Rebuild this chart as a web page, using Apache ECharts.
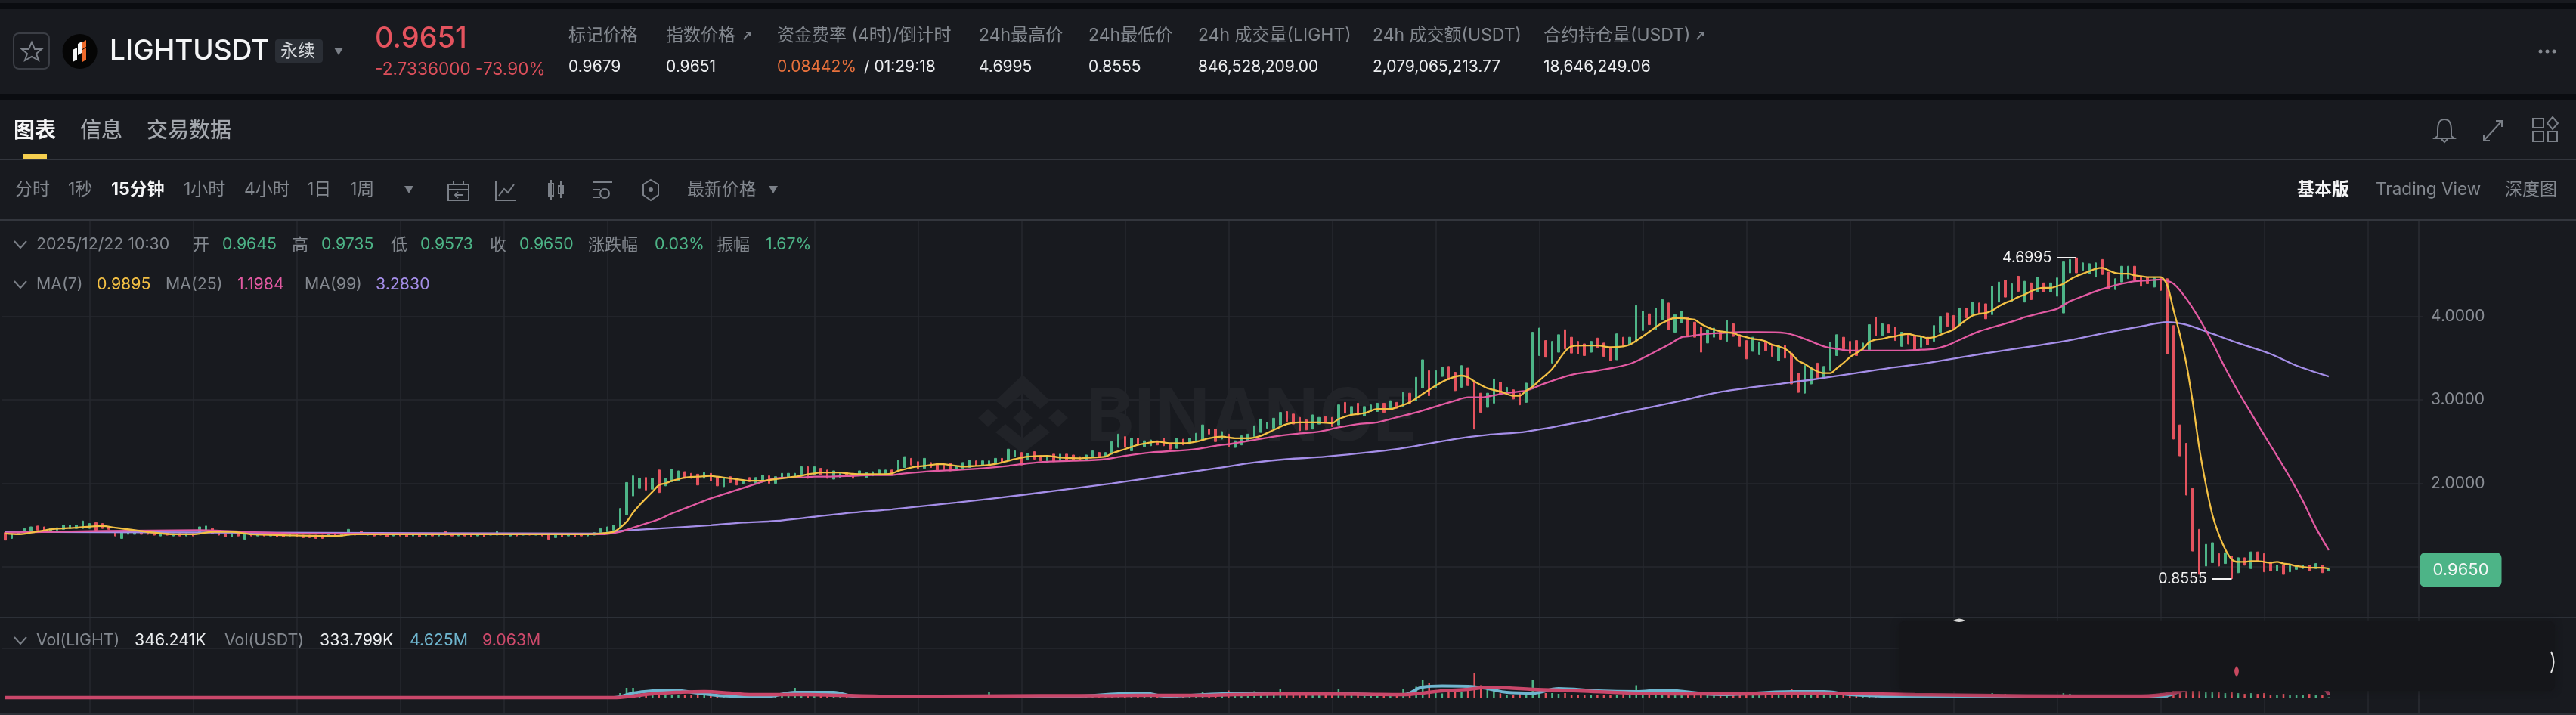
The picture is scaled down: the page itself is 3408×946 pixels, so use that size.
<!DOCTYPE html>
<html>
<head>
<meta charset="utf-8">
<title>LIGHTUSDT</title>
<script src="https://cdn.jsdelivr.net/npm/echarts@6/dist/echarts.min.js"></script>
<style>
html, body { margin: 0; padding: 0; background: #181a1f; }
#main { width: 3408px; height: 946px; }
</style>
</head>
<body>
<div id="main"></div>
<script>
// 15m candles, last one is 2025/12/22 10:30
const opens = [
    1.41,1.34,1.39,1.41,1.43,1.49,1.48,1.42,1.44,1.45,
    1.46,1.46,1.46,1.46,1.53,1.52,1.48,1.43,1.34,1.39,
    1.39,1.42,1.41,1.41,1.37,1.41,1.37,1.40,1.37,1.40,
    1.42,1.43,1.46,1.42,1.40,1.36,1.40,1.33,1.40,1.37,
    1.39,1.37,1.39,1.39,1.37,1.39,1.38,1.38,1.38,1.38,
    1.36,1.39,1.37,1.38,1.41,1.43,1.38,1.40,1.40,1.39,
    1.37,1.39,1.39,1.37,1.39,1.37,1.39,1.37,1.43,1.40,
    1.37,1.39,1.39,1.37,1.39,1.38,1.38,1.40,1.37,1.39,
    1.38,1.39,1.38,1.39,1.39,1.35,1.38,1.37,1.38,1.38,
    1.37,1.38,1.41,1.42,1.44,1.46,1.62,1.85,1.94,2.07,
    1.93,2.16,1.97,2.02,2.03,2.14,2.12,2.11,2.06,2.12,
    2.08,1.96,2.08,2.05,2.00,2.07,2.00,2.03,2.09,2.00,
    2.06,2.07,2.07,2.09,2.20,2.10,2.18,2.16,2.05,2.07,
    2.13,2.12,2.09,2.07,2.09,2.10,2.11,2.16,2.15,2.19,
    2.30,2.26,2.18,2.25,2.24,2.22,2.24,2.17,2.18,2.19,
    2.27,2.21,2.22,2.25,2.30,2.28,2.32,2.37,2.28,2.38,
    2.33,2.27,2.35,2.27,2.35,2.34,2.32,2.28,2.31,2.37,
    2.32,2.35,2.43,2.56,2.39,2.54,2.44,2.45,2.51,2.54,
    2.48,2.42,2.53,2.47,2.50,2.52,2.65,2.65,2.53,2.59,
    2.43,2.46,2.51,2.56,2.61,2.66,2.66,2.70,2.86,2.83,
    2.79,2.76,2.65,2.71,2.80,2.79,2.70,2.97,2.82,2.96,
    2.81,2.86,2.86,2.96,2.89,2.97,2.92,3.08,2.99,3.14,
    3.35,3.14,3.28,3.40,3.33,3.15,3.38,3.23,3.08,2.91,
    2.96,3.21,3.06,3.12,3.08,2.97,3.13,3.53,3.71,3.44,
    3.57,3.84,3.75,3.70,3.67,3.57,3.74,3.68,3.63,3.48,
    3.75,3.66,3.69,3.83,4.03,3.84,3.96,4.16,3.81,3.92,
    3.99,3.93,3.87,3.68,3.75,3.82,3.70,3.91,3.78,3.71,
    3.58,3.54,3.70,3.66,3.47,3.65,3.56,3.32,3.08,3.19,
    3.44,3.25,3.35,3.53,3.75,3.70,3.71,3.60,3.60,3.99,
    3.77,3.90,3.87,3.64,3.80,3.77,3.63,3.75,3.70,3.81,
    4.04,4.01,3.89,4.10,4.02,4.16,4.15,4.02,4.17,4.43,
    4.18,4.48,4.17,4.40,4.29,4.40,4.29,4.24,4.04,4.52,
    4.70,4.55,4.51,4.47,4.68,4.53,4.32,4.41,4.45,4.60,
    4.48,4.47,4.35,4.46,4.45,3.89,2.70,2.48,1.94,1.45,
    1.01,1.05,1.16,1.04,1.13,0.93,1.11,0.98,1.18,1.16,
    1.06,0.95,1.02,0.94,0.97,0.98,1.02,0.98,1.02,0.95
];
const closes = [
    1.32,1.40,1.43,1.46,1.48,1.44,1.44,1.46,1.47,1.50,
    1.50,1.50,1.55,1.52,1.44,1.46,1.45,1.37,1.42,1.43,
    1.44,1.39,1.39,1.38,1.41,1.38,1.40,1.37,1.40,1.37,
    1.48,1.49,1.40,1.38,1.36,1.40,1.37,1.40,1.37,1.39,
    1.37,1.39,1.36,1.36,1.39,1.36,1.35,1.35,1.34,1.34,
    1.39,1.36,1.40,1.45,1.38,1.39,1.40,1.37,1.38,1.36,
    1.39,1.37,1.36,1.39,1.36,1.39,1.37,1.40,1.38,1.37,
    1.39,1.37,1.36,1.39,1.36,1.40,1.43,1.38,1.40,1.37,
    1.39,1.38,1.39,1.37,1.33,1.38,1.36,1.38,1.36,1.37,
    1.39,1.41,1.46,1.48,1.50,1.70,2.01,2.09,2.06,1.92,
    2.06,1.89,2.06,2.17,2.15,2.06,2.06,1.98,2.13,2.03,
    1.97,2.07,2.01,1.98,2.04,2.02,2.07,2.10,2.00,2.08,
    2.12,2.12,2.12,2.20,2.06,2.20,2.10,2.06,2.15,2.12,
    2.09,2.06,2.15,2.13,2.14,2.16,2.16,2.10,2.28,2.32,
    2.22,2.17,2.30,2.19,2.16,2.16,2.15,2.21,2.25,2.28,
    2.21,2.27,2.27,2.30,2.25,2.41,2.39,2.22,2.36,2.29,
    2.27,2.33,2.26,2.35,2.28,2.28,2.28,2.34,2.39,2.31,
    2.37,2.50,2.59,2.43,2.54,2.46,2.51,2.52,2.46,2.45,
    2.41,2.54,2.46,2.54,2.60,2.70,2.59,2.50,2.62,2.44,
    2.51,2.57,2.59,2.69,2.77,2.73,2.78,2.85,2.74,2.71,
    2.63,2.64,2.82,2.79,2.73,2.68,2.94,2.84,2.92,2.82,
    2.92,2.94,2.96,2.85,2.99,2.90,3.09,2.96,3.27,3.48,
    3.05,3.35,3.39,3.24,3.11,3.41,3.17,2.65,2.85,3.08,
    3.25,3.07,3.15,3.01,2.94,3.20,3.81,3.86,3.51,3.70,
    3.78,3.61,3.56,3.55,3.53,3.70,3.62,3.52,3.47,3.79,
    3.64,3.75,4.13,4.06,3.90,4.10,4.20,3.84,4.02,4.06,
    3.76,3.75,3.57,3.84,3.86,3.72,3.95,3.76,3.64,3.49,
    3.75,3.69,3.59,3.52,3.65,3.50,3.19,3.09,3.41,3.38,
    3.26,3.40,3.69,3.78,3.61,3.56,3.53,3.68,3.90,3.77,
    3.91,3.80,3.71,3.81,3.67,3.60,3.76,3.66,3.89,4.00,
    3.88,3.84,4.10,3.98,4.17,4.03,3.97,4.36,4.41,4.23,
    4.39,4.30,4.42,4.20,4.47,4.29,4.40,4.46,4.66,4.68,
    4.52,4.64,4.63,4.64,4.50,4.33,4.45,4.60,4.60,4.43,
    4.36,4.39,4.46,4.31,3.55,2.53,2.33,1.86,1.19,0.91,
    1.27,1.29,1.01,1.17,0.86,1.11,1.02,1.18,1.06,0.94,
    0.95,1.02,0.91,1.03,1.02,1.02,0.95,1.04,0.93,0.98
];
// volume in millions
const volumes = [
    2,2,2,3,2,2,2,2,2,3, 2,2,3,2,2,2,2,3,2,2, 2,2,2,2,2,2,2,2,2,2,
    3,3,2,2,2,2,2,3,2,2, 2,2,2,2,2,2,2,2,3,2, 2,2,2,3,2,2,2,2,2,2,
    2,2,2,2,2,2,2,2,3,2, 2,2,2,2,2,2,3,2,2,2, 2,2,2,2,3,2,2,2,2,2,
    2,2,3,3,4,14,28,28,14,14,
    12,24,12,10,10,10,8,10,8,10,
    10,8,8,6,6,8,8,6,8,8,
    8,8,28,10,10,10,8,8,8,6,
    6,8,6,6,6,6,6,6,8,10,
    8,6,6,6,6,6,6,6,6,6,
    6,6,16,6,6,8,6,8,6,6,
    6,6,6,6,6,6,6,6,8,6,
    8,10,18,10,8,8,6,6,6,6,
    6,6,6,6,8,18,8,8,8,21,
    8,8,8,19,18,8,8,24,8,8,
    8,8,8,8,8,8,26,8,8,8,
    6,8,6,8,6,8,24,11,31,48,
    40,15,13,16,17,17,21,68,35,23,
    24,13,8,10,13,13,48,18,14,14,
    12,14,10,10,10,10,8,10,10,10,
    12,10,35,14,10,10,12,10,8,10,
    10,10,14,10,10,10,10,10,10,14,
    10,10,10,10,10,10,26,12,12,10,
    10,10,12,10,10,10,10,8,10,10,
    8,10,8,10,10,10,10,8,10,12,
    12,10,12,8,10,8,10,14,12,12,
    10,10,10,8,10,8,8,10,14,12,
    10,8,8,10,10,10,8,10,8,8,
    8,8,8,8,16,20,20,22,22,20,
    18,16,16,14,16,14,12,14,12,14,
    10,10,12,10,10,10,12,8,8,3
];
// [candle index, value]
const ma7 = [
    [0,1.40],[2,1.39],[4,1.41],[7,1.45],[11,1.47],[15,1.49],[17,1.47],[20,1.44],[23,1.41],[26,1.39],[29,1.39],[32,1.42],[35,1.42],[38,1.39],[43,1.38],[51,1.37],[54,1.39],[62,1.39],[71,1.39],[80,1.39],[90,1.39],
    [92,1.40],[94,1.42],[95,1.47],[96,1.54],[97,1.65],[98,1.74],[99,1.82],[100,1.90],[101,1.98],[102,2.00],[103,2.03],[104,2.05],[105,2.07],[107,2.08],[109,2.09],[110,2.08],[111,2.07],[112,2.06],[113,2.05],[114,2.04],[115,2.03],[117,2.03],[118,2.04],[119,2.05],[120,2.06],[121,2.07],[122,2.08],[123,2.09],[124,2.11],[125,2.12],[126,2.13],[129,2.13],[130,2.12],[132,2.11],[136,2.11],[137,2.12],[138,2.15],[139,2.17],[140,2.19],[142,2.21],[143,2.22],[144,2.23],[145,2.23],[146,2.22],[147,2.21],
    [148,2.20],[150,2.21],[152,2.22],[154,2.25],[156,2.29],[158,2.32],[161,2.33],[163,2.31],[166,2.30],[168,2.31],[170,2.32],[171,2.36],[173,2.41],[175,2.46],[177,2.49],[178,2.50],[180,2.48],[182,2.48],[184,2.50],[186,2.54],[188,2.56],[190,2.54],[192,2.54],[194,2.57],[196,2.64],[198,2.71],[200,2.73],[203,2.73],
    [205,2.72],[206,2.77],[208,2.82],[210,2.84],[212,2.89],[214,2.89],[215,2.91],[217,2.97],[219,3.07],[221,3.17],[223,3.25],[225,3.29],[226,3.27],[227,3.22],[229,3.14],[231,3.10],[233,3.05],[234,3.05],[235,3.11],[236,3.16],[237,3.23],[239,3.37],[241,3.58],[242,3.64],[244,3.65],[246,3.65],[248,3.63],[250,3.64],[251,3.66],[253,3.76],[255,3.87],[256,3.92],[258,3.98],[259,3.98],
    [260,3.97],[261,3.96],[262,3.91],[263,3.87],[264,3.84],[265,3.82],[266,3.81],[267,3.80],[268,3.77],[269,3.75],[270,3.73],[271,3.72],[272,3.70],[273,3.66],[274,3.64],[275,3.61],[276,3.55],[277,3.47],[278,3.43],[279,3.38],[280,3.34],[281,3.32],[282,3.32],[283,3.38],[284,3.44],[285,3.51],[286,3.56],[287,3.61],[288,3.69],[289,3.72],[290,3.73],[291,3.75],[292,3.76],[293,3.78],[294,3.79],[295,3.77],[296,3.76],[297,3.74],[298,3.75],[299,3.78],[300,3.81],[301,3.84],[302,3.90],[303,3.96],[304,4.01],[305,4.03],[306,4.04],[307,4.07],[308,4.12],[309,4.16],[310,4.19],[311,4.23],
    [312,4.26],[313,4.30],[314,4.33],[315,4.34],[316,4.34],[317,4.36],[318,4.39],[319,4.44],[320,4.48],[321,4.51],[322,4.54],[323,4.57],[324,4.58],[325,4.55],[326,4.52],[327,4.51],[328,4.51],[329,4.49],[330,4.48],[331,4.47],[333,4.47],[334,4.38],[335,4.08],[336,3.78],[337,3.43],[338,2.96],[339,2.42],[340,1.99],[341,1.63],[342,1.39],[343,1.21],[344,1.09],[345,1.06],[346,1.06],[347,1.07],[348,1.07],[349,1.06],[350,1.05],[351,1.06],[352,1.04],[353,1.03],[354,1.01],[355,1.00],[356,0.99],[358,0.99],[359,0.98]
];
const ma25 = [
    [0,1.41],[15,1.43],[30,1.44],[37,1.42],[45,1.40],[92,1.39],[95,1.42],[97,1.47],[99,1.52],[101,1.57],[103,1.64],[105,1.70],[107,1.76],[109,1.82],[111,1.87],[113,1.92],[115,1.97],[117,2.02],[119,2.06],[121,2.07],[123,2.07],[125,2.08],[127,2.08],[131,2.09],[134,2.10],[137,2.10],[139,2.12],[142,2.14],[144,2.15],[147,2.16],
    [151,2.18],[155,2.21],[158,2.24],[161,2.26],[165,2.27],[170,2.29],[173,2.33],[177,2.37],[181,2.39],[184,2.41],[187,2.45],[190,2.48],[193,2.52],[196,2.56],[199,2.59],[203,2.62],[206,2.67],[209,2.71],[212,2.73],[215,2.79],[218,2.85],[221,2.92],[224,2.99],[226,3.03],[228,3.03],[231,3.07],[234,3.10],[235,3.11],[238,3.20],[242,3.30],[246,3.35],[251,3.43],[255,3.58],[257,3.66],[259,3.75],[260,3.76],
    [263,3.79],[265,3.80],[268,3.81],[271,3.81],[275,3.80],[277,3.76],[279,3.70],[281,3.64],[283,3.61],[285,3.59],[293,3.59],[296,3.60],[298,3.61],[300,3.65],[302,3.72],[305,3.82],[308,3.89],[311,3.96],[312,3.99],[315,4.05],[317,4.09],[319,4.18],[321,4.24],[323,4.30],[325,4.35],[327,4.39],[329,4.42],[331,4.43],[333,4.44],[335,4.39],[337,4.21],[339,3.97],[341,3.69],[343,3.38],[345,3.10],[347,2.84],[349,2.58],[351,2.33],[353,2.07],[355,1.79],[357,1.47],[359,1.20]
];
const ma99 = [
    [0,1.42],[40,1.41],[92,1.40],[95,1.43],[101,1.46],[109,1.50],[114,1.53],[119,1.55],[125,1.60],[131,1.65],[137,1.69],[142,1.73],[147,1.77],[157,1.86],[171,2.00],[179,2.09],[187,2.18],[193,2.25],[198,2.29],[204,2.32],[215,2.41],[224,2.53],[229,2.58],[235,2.62],[243,2.73],[251,2.86],[259,2.99],[264,3.08],[269,3.14],[274,3.19],[279,3.24],[285,3.31],[291,3.38],[297,3.44],[303,3.52],[307,3.57],[313,3.64],[318,3.70],[325,3.81],[330,3.88],[334,3.93],[337,3.90],[340,3.82],[345,3.68],[350,3.55],[354,3.41],[359,3.28]
];
const volMaBlue = [
    [0,2],[94,2],[97,14],[100,20],[103,22],[107,14],[112,6],[118,6],[122,16],[128,16],[131,6],[139,5],[150,6],[165,6],[172,12],[176,14],[179,6],[188,12],[195,14],[205,14],[212,10],[216,10],[219,30],[222,33],[226,32],[229,26],[232,16],[236,14],[240,26],[246,20],[252,18],[256,22],[265,10],[276,18],[281,18],[285,10],[295,4],[310,6],[320,4],[333,4],[337,24],[342,34],[348,32],[358,30],[359,9]
];
const volMaRed = [
    [0,2],[94,2],[97,6],[100,12],[104,16],[108,18],[112,14],[115,10],[124,10],[129,8],[139,5],[150,6],[160,7],[170,7],[175,8],[185,8],[190,10],[200,12],[210,11],[216,10],[219,14],[222,20],[226,24],[229,29],[232,28],[236,24],[243,20],[251,14],[260,12],[270,12],[276,14],[285,13],[295,10],[305,8],[320,6],[330,6],[335,14],[338,28],[342,34],[346,32],[352,30],[358,28],[359,10]
];
const priceTicks = [1, 2, 3, 4];
const lastPrice = 0.9650;
const highMark = 4.6995;
const lowMark = 0.8555;

const GREEN = '#4db487';
const RED = '#e4535e';
const YELLOW = '#f3c044';
const PINK = '#e25aa2';
const PURPLE = '#a58ee8';
const GRAY = '#83888f';
const WHITE = '#eceef0';
const ICON = '#7b8088';
const FONT = 'Inter, "Noto Sans CJK SC", sans-serif';
const GRID_LINE = '#26292f';

// 374 slots, 14 empty ones stay on the right of the last candle
const categories = [];
const lastTime = Date.UTC(2025, 11, 22, 10, 30);
for (let i = 0; i < 374; i++) {
    const d = new Date(lastTime + (i - 359) * 900000);
    categories.push(d.toISOString().slice(0, 16).replace('T', ' '));
}
const candles = opens.map((o, i) => [o, closes[i], Math.min(o, closes[i]), Math.max(o, closes[i])]);
const volumeBars = volumes.map((v, i) => ({
    value: v,
    itemStyle: { color: closes[i] >= opens[i] ? GREEN : RED }
}));

// header / toolbar texts: text, x, y, size, color, weight
const texts = [
    ['LIGHTUSDT', 145, 68, 37, '#f4f5f6', 500],
    ['永续', 371, 68, 23, '#d5d8dc', 400],
    ['0.9651', 496, 52, 38, '#e4535e', 500],
    ['-2.7336000 -73.90%', 496, 92, 22.6, '#dc4f5b', 400],
    ['标记价格', 752, 47, 23, GRAY, 400],
    ['0.9679', 752, 89, 21, WHITE, 400],
    ['指数价格', 881, 47, 23, GRAY, 400],
    ['0.9651', 881, 89, 21, WHITE, 400],
    ['资金费率 (4时)/倒计时', 1028, 47, 23, GRAY, 400],
    ['0.08442%', 1028, 89, 21, '#e8713c', 400],
    ['/ 01:29:18', 1143, 89, 21, WHITE, 400],
    ['24h最高价', 1295, 47, 23, GRAY, 400],
    ['4.6995', 1295, 89, 21, WHITE, 400],
    ['24h最低价', 1440, 47, 23, GRAY, 400],
    ['0.8555', 1440, 89, 21, WHITE, 400],
    ['24h 成交量(LIGHT)', 1585, 47, 23, GRAY, 400],
    ['846,528,209.00', 1585, 89, 21, WHITE, 400],
    ['24h 成交额(USDT)', 1816, 47, 23, GRAY, 400],
    ['2,079,065,213.77', 1816, 89, 21, WHITE, 400],
    ['合约持仓量(USDT)', 2042, 47, 23, GRAY, 400],
    ['18,646,249.06', 2042, 89, 21, WHITE, 400],
    ['图表', 18, 174, 28, '#f4f5f6', 700],
    ['信息', 106, 174, 28, '#a3a7ad', 500],
    ['交易数据', 194, 174, 28, '#a3a7ad', 500],
    ['分时', 20, 251, 23, GRAY, 400],
    ['1秒', 90, 251, 23, GRAY, 400],
    ['15分钟', 147, 251, 23, '#f4f5f6', 700],
    ['1小时', 243, 251, 23, GRAY, 400],
    ['4小时', 323, 251, 23, GRAY, 400],
    ['1日', 406, 251, 23, GRAY, 400],
    ['1周', 463, 251, 23, GRAY, 400],
    ['最新价格', 909, 251, 23, GRAY, 400],
    ['基本版', 3039, 251, 23, '#f4f5f6', 700],
    ['Trading View', 3143, 251, 22.5, GRAY, 400],
    ['深度图', 3314, 251, 23, GRAY, 400],
    ['2025/12/22 10:30', 48, 324, 21.3, GRAY, 400],
    ['开', 255, 324, 22, GRAY, 400],
    ['0.9645', 294, 324, 21.3, GREEN, 400],
    ['高', 386, 324, 22, GRAY, 400],
    ['0.9735', 425, 324, 21.3, GREEN, 400],
    ['低', 517, 324, 22, GRAY, 400],
    ['0.9573', 556, 324, 21.3, GREEN, 400],
    ['收', 648, 324, 22, GRAY, 400],
    ['0.9650', 687, 324, 21.3, GREEN, 400],
    ['涨跌幅', 778, 324, 22, GRAY, 400],
    ['0.03%', 866, 324, 21.3, GREEN, 400],
    ['振幅', 948, 324, 22, GRAY, 400],
    ['1.67%', 1013, 324, 21.3, GREEN, 400],
    ['MA(7)', 48, 377, 21.3, GRAY, 400],
    ['0.9895', 128, 377, 21.3, YELLOW, 400],
    ['MA(25)', 219, 377, 21.3, GRAY, 400],
    ['1.1984', 314, 377, 21.3, PINK, 400],
    ['MA(99)', 403, 377, 21.3, GRAY, 400],
    ['3.2830', 497, 377, 21.3, PURPLE, 400],
    ['Vol(LIGHT)', 48, 848, 21.3, GRAY, 400],
    ['346.241K', 178, 848, 21.3, WHITE, 400],
    ['Vol(USDT)', 297, 848, 21.3, GRAY, 400],
    ['333.799K', 423, 848, 21.3, WHITE, 400],
    ['4.625M', 542, 848, 21.3, '#6fb6cf', 400],
    ['9.063M', 638, 848, 21.3, '#cf4a6c', 400]
];

// icon outlines, absolute path data
const iconPaths = [
    'M42 56L46 65L55 65L48 71L51 80L42 75L33 80L36 71L29 65L38 65Z',
    'M593 244H620V265H593ZM593 251H620M600 239V244M613 239V244M612 258H602M606 254L602 258L606 262',
    'M656 239V265H682M660 259L667 250L672 255L680 244',
    'M726 243V259H732V243ZM729 238V264M739 246V256H745V246ZM742 240V262',
    'M784 241H810M784 251H794M784 261H794M794 256a6 6 0 1 0 12 0a6 6 0 1 0 -12 0',
    'M861 238L871 244V258L861 265L851 258V244Z',
    'M3234 158C3226 158 3225 166 3225 172V180L3221 183H3247L3243 180V172C3243 166 3242 158 3234 158ZM3230 184L3234 188L3238 184',
    'M3286 186L3310 160M3302 160H3310V168M3286 178V186H3294',
    'M3351 157H3365V169H3351ZM3351 174H3365V187H3351ZM3371 174H3383V187H3371ZM3377 155L3384 163L3377 171L3370 163Z',
    'M984 52L992 43M987 43H992V48',
    'M2245 52L2253 43M2248 43H2253V48',
    'M19 319L27 328L35 319',
    'M19 372L27 381L35 372',
    'M19 843L27 852L35 843'
];
const trianglePaths = [
    'M442 63H454L448 73Z', 'M535 246H547L541 256Z', 'M1017 246H1029L1023 256Z'
];
const watermarkPaths = [
    'M1353 541L1366 553L1353 565L1340 553Z',
    'M1307 541L1320 553L1307 565L1294 553Z',
    'M1400 541L1413 553L1400 565L1387 553Z',
    'M1353 496L1389 530L1376 541L1353 520L1330 541L1317 530Z',
    'M1353 600L1389 572L1376 561L1353 580L1330 561L1317 572Z'
];

function bandRect(x, y, w, h, fill) {
    return { type: 'rect', silent: true, z: 1, shape: { x, y, width: w, height: h }, style: { fill } };
}

// graphic component has no generic path type, register each svg path as a shape
let shapeCount = 0;
function pathEl(pathData, style, z) {
    const type = 'svgPath' + (shapeCount++);
    echarts.graphic.registerShape(type, echarts.graphic.extendPath(pathData, {}));
    return { type, silent: true, z, style };
}

function buildGraphic() {
    const els = [];
    els.push(bandRect(0, 4, 3408, 8, '#0a0c10'));
    els.push(bandRect(0, 124, 3408, 8, '#0a0c10'));
    els.push(bandRect(0, 210, 3408, 2, '#33363d'));
    els.push(bandRect(0, 290, 3408, 2, '#33363d'));
    els.push(bandRect(0, 816, 3408, 2, '#2c3037'));
    els.push(bandRect(0, 944, 3408, 2, '#2c3037'));
    els.push(bandRect(30, 204, 32, 6, '#f6cf4f'));
    // star box, chip, logo
    els.push({ type: 'rect', silent: true, z: 3, shape: { x: 18, y: 44, width: 47, height: 47, r: 7 }, style: { fill: 'none', stroke: '#3b3e45', lineWidth: 2 } });
    els.push({ type: 'rect', silent: true, z: 3, shape: { x: 364, y: 52, width: 63, height: 31, r: 4 }, style: { fill: '#2a2e35' } });
    els.push({ type: 'circle', silent: true, z: 3, shape: { cx: 105.6, cy: 68, r: 23 }, style: { fill: '#050505' } });
    els.push(pathEl('M96 66L102 63V79L96 82ZM103 58L108 55V70L103 73Z', { fill: '#f4f5f6' }, 4));
    els.push(pathEl('M109 66L114 63V79L109 82ZM109 56L114 53V62L109 65Z', { fill: '#ef6a2b' }, 4));
    // ...
    [3361, 3370, 3379].forEach(cx => {
        els.push({ type: 'circle', silent: true, z: 3, shape: { cx, cy: 68, r: 2.5 }, style: { fill: '#868a91' } });
    });
    iconPaths.forEach(d => {
        els.push(pathEl(d, { fill: 'none', stroke: ICON, lineWidth: 2 }, 3));
    });
    els.push({ type: 'circle', silent: true, z: 3, shape: { cx: 861, cy: 251, r: 3 }, style: { fill: ICON } });
    trianglePaths.forEach(d => {
        els.push(pathEl(d, { fill: ICON }, 3));
    });
    watermarkPaths.forEach(d => {
        els.push(pathEl(d, { fill: '#212328' }, 0));
    });
    els.push({ type: 'text', silent: true, z: 0, style: { text: 'BINANCE', x: 1437, y: 554, fill: '#212328', font: '700 96px ' + FONT, verticalAlign: 'middle' } });
    texts.forEach(t => {
        els.push({
            type: 'text', silent: true, z: 5,
            style: { text: t[0], x: t[1], y: t[2], fill: t[4], font: t[5] + ' ' + t[3] + 'px ' + FONT, verticalAlign: 'middle', align: 'left' }
        });
    });
    // smudged patch over the top of the volume panel
    els.push({ type: 'rect', silent: true, z: 20, shape: { x: 2512, y: 822, width: 868, height: 92, r: 8 }, style: { fill: '#15161a', shadowBlur: 10, shadowColor: '#15161a' } });
    els.push(pathEl('M2584 821Q2592 816 2600 821Q2592 825 2584 821Z', { fill: '#d8d8d8' }, 21));
    els.push(pathEl('M2959 881Q2965 888 2959 896Q2953 888 2959 881Z', { fill: '#c8485f' }, 21));
    els.push(pathEl('M3375 862Q3382 876 3375 890', { fill: 'none', stroke: '#e6e6e6', lineWidth: 2 }, 21));
    return els;
}

const chart = echarts.init(document.getElementById('main'));

function maSeries(name, data, color, width) {
    return {
        name, type: 'line', data, xAxisIndex: 0, yAxisIndex: 0,
        showSymbol: false, smooth: 0.3, z: 4,
        lineStyle: { color, width }
    };
}

const option = {
    animation: false,
    backgroundColor: '#181a1f',
    grid: [
        { left: 2.7, top: 291, width: 3202.4, height: 526 },
        { left: 2.7, top: 818, width: 3202.4, height: 125 }
    ],
    xAxis: [0, 1].map(gridIndex => ({
        type: 'category',
        gridIndex,
        data: categories,
        axisLine: { show: false },
        axisTick: { show: false },
        axisLabel: { show: false },
        splitLine: {
            show: true,
            alignWithLabel: true,
            interval: index => index % 16 === 13,
            lineStyle: { color: GRID_LINE, width: 1.5 }
        }
    })),
    yAxis: [
        {
            type: 'value',
            gridIndex: 0,
            position: 'right',
            offset: -5,
            min: 0.394,
            max: 5.154,
            axisLine: { show: true, lineStyle: { color: '#2b2e35', width: 1.5 } },
            axisTick: { show: false, customValues: priceTicks },
            axisLabel: {
                margin: 16,
                customValues: priceTicks,
                color: '#8a8e95',
                fontFamily: FONT,
                fontSize: 21,
                formatter: v => v.toFixed(4)
            },
            splitLine: { show: true, lineStyle: { color: GRID_LINE, width: 1.5 } }
        },
        {
            type: 'value',
            gridIndex: 1,
            position: 'right',
            offset: -5,
            min: -38,
            max: 212,
            axisLine: { show: true, lineStyle: { color: '#2b2e35', width: 1.5 } },
            axisTick: { show: false, customValues: [132] },
            axisLabel: { show: false, customValues: [132] },
            splitLine: { show: true, lineStyle: { color: GRID_LINE, width: 1.5 } }
        }
    ],
    series: [
        {
            name: 'K',
            type: 'candlestick',
            xAxisIndex: 0,
            yAxisIndex: 0,
            z: 3,
            barWidth: 3,
            data: candles,
            itemStyle: { color: GREEN, color0: RED, borderColor: GREEN, borderColor0: RED, borderWidth: 1 },
            markLine: {
                silent: true,
                symbol: 'none',
                animation: false,
                lineStyle: { color: '#f2f2f2', type: 'solid', width: 2 },
                label: { position: 'start', color: '#f2f2f2', fontFamily: FONT, fontSize: 19.5, distance: 7, formatter: p => p.data.labelText },
                data: [
                    [{ coord: [317, highMark], labelText: highMark.toFixed(4) }, { coord: [320, highMark] }],
                    [{ coord: [341, lowMark], labelText: lowMark.toFixed(4) }, { coord: [344, lowMark] }]
                ]
            }
        },
        maSeries('MA99', ma99, PURPLE, 2.3),
        maSeries('MA25', ma25, PINK, 2.3),
        maSeries('MA7', ma7, YELLOW, 2.3),
        {
            name: 'Vol',
            type: 'bar',
            xAxisIndex: 1,
            yAxisIndex: 1,
            barWidth: 2.5,
            data: volumeBars,
            z: 3
        },
        {
            name: 'VolMa1', type: 'line', xAxisIndex: 1, yAxisIndex: 1, data: volMaBlue,
            showSymbol: false, smooth: 0.4, z: 4, lineStyle: { color: '#6fb6cf', width: 4 }
        },
        {
            name: 'VolMa2', type: 'line', xAxisIndex: 1, yAxisIndex: 1, data: volMaRed,
            showSymbol: false, smooth: 0.4, z: 5, lineStyle: { color: '#c9476a', width: 4.5 }
        }
    ]
};

chart.setOption(option);

// last price tag sits on the axis at the price
const tagY = chart.convertToPixel({ yAxisIndex: 0 }, lastPrice);
const elements = buildGraphic();
elements.push({ type: 'rect', silent: true, z: 6, shape: { x: 3201.5, y: tagY - 23, width: 108, height: 46, r: 7 }, style: { fill: '#4db487' } });
elements.push({ type: 'text', silent: true, z: 7, style: { text: lastPrice.toFixed(4), x: 3255.5, y: tagY, fill: '#f6f8f7', font: '400 22px ' + FONT, align: 'center', verticalAlign: 'middle' } });
chart.setOption({ graphic: { elements } });
</script>
</body>
</html>
